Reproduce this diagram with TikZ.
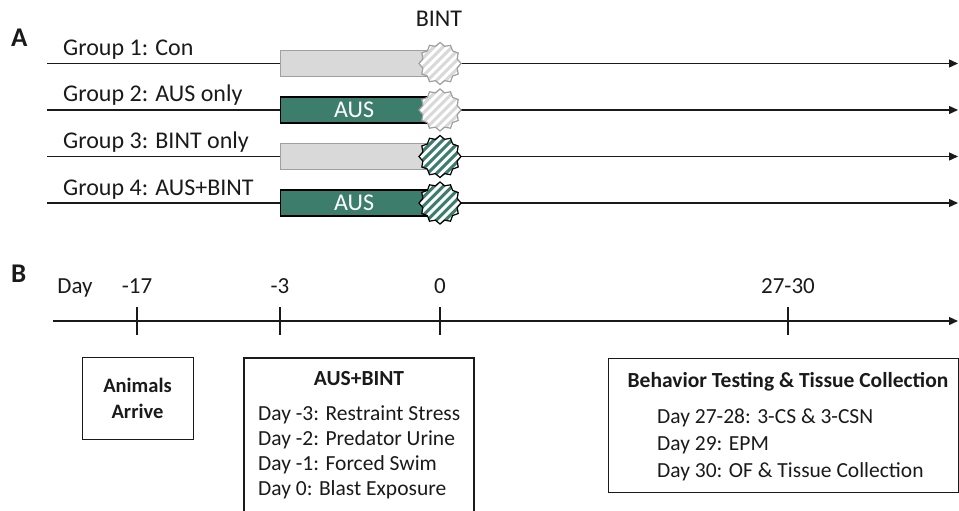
\documentclass[tikz,border=0pt]{standalone}
\usepackage{fontspec}
\setmainfont{Carlito}
\usetikzlibrary{shapes.geometric,arrows.meta,calc}
\definecolor{grn}{HTML}{3C7D6C}
\definecolor{lgray}{HTML}{D9D9D9}
\definecolor{bgray}{HTML}{A0A0A0}
\definecolor{txt}{HTML}{1A1A1A}
\tikzset{
  lbl/.style={font=\fontsize{24}{26}\selectfont, text=txt, inner sep=0pt},
  dlbl/.style={font=\fontsize{23}{25}\selectfont, text=txt, inner sep=0pt, anchor=base},
  panel/.style={font=\bfseries\fontsize{27}{29}\selectfont, text=txt, inner sep=0pt, anchor=base west},
  tline/.style={line width=1.3pt, draw=txt, -{Triangle[length=9pt,width=8pt]}},
  graybar/.style={fill=lgray, draw=bgray, line width=1.2pt, minimum width=147pt, minimum height=26pt, inner sep=0pt, anchor=west},
  greenbar/.style={fill=grn, draw=black, line width=1.2pt, minimum width=147pt, minimum height=26pt, inner sep=0pt, anchor=west, text=white, font=\fontsize{24}{26}\selectfont},
  burst/.style={star, star points=12, star point ratio=1.18, minimum size=42pt, inner sep=0pt, line width=1.2pt,
    path picture={
      \foreach \k in {-7,...,7}
        \draw[white, line width=3pt] ($(path picture bounding box.center)+(\k*9-30,30)$) -- ++(60,-60);
    }},
  lburst/.style={burst, fill=lgray, draw=bgray},
  gburst/.style={burst, fill=grn, draw=black},
  tick/.style={line width=1.2pt, draw=txt},
  infobox/.style={draw=txt, line width=1.2pt, inner sep=0pt},
  bhead/.style={font=\bfseries\fontsize{21.5}{23}\selectfont, text=txt, inner sep=0pt, anchor=base},
  bline/.style={font=\fontsize{21.5}{23}\selectfont, text=txt, inner sep=0pt, anchor=base west},
}
\begin{document}
\begin{tikzpicture}[x=1pt,y=-1pt]
\useasboundingbox (0,0) rectangle (959,511);
% Panel A
\node[panel] (A) at (11,47) {A};
\node[lbl, anchor=base] (bint) at (439,27) {BINT};
\foreach \r/\y/\bar/\bst/\lab/\txt in {1/63.5/graybar/lburst/Group 1: Con/,2/110/greenbar/lburst/Group 2: AUS only/AUS,3/156.5/graybar/gburst/Group 3: BINT only/,4/203/greenbar/gburst/Group 4: AUS+BINT/AUS}{
  \coordinate (s\r) at (47,\y);
  \coordinate (e\r) at (958,\y);
  \draw[tline] (s\r) -- (e\r);
  \node[lbl, anchor=base west] (g\r) at (63,\y-8) {\lab};
  \node[\bar] (bar\r) at (280,\y) {\txt};
  \node[\bst] (st\r) at (440,\y) {};
}
% Panel B
\node[panel] (B) at (11,282) {B};
\node[dlbl] (day) at (75,293) {Day};
\coordinate (bs) at (53,321);
\coordinate (be) at (958,321);
\draw[tline] (bs) -- (be);
\foreach \n/\x/\t in {a/137/-17,b/280/-3,c/440/0,d/788/27-30}{
  \coordinate (t\n1) at (\x,307);
  \coordinate (t\n2) at (\x,335);
  \draw[tick] (t\n1) -- (t\n2);
  \node[dlbl] (d\n) at (\x,293) {\t};
}
% Boxes
\node[infobox, minimum width=111pt, minimum height=82pt, anchor=north west] (box1) at (82,357) {};
\node[font=\bfseries\fontsize{20.5}{22}\selectfont, text=txt, inner sep=0pt, anchor=base] (arr1) at (137.5,392) {Animals};
\node[font=\bfseries\fontsize{20.5}{22}\selectfont, text=txt, inner sep=0pt, anchor=base] (arr2) at (137.5,418) {Arrive};
\draw[line width=1.2pt, draw=txt] (244,512) -- (244,358) -- (474,358) -- (474,512);
\coordinate (box2) at (359,358);
\node[bhead] (h2) at (359,385) {AUS+BINT};
\node[bline] (l21) at (258,420) {Day -3: Restraint Stress};
\node[bline] (l22) at (258,445) {Day -2: Predator Urine};
\node[bline] (l23) at (258,470) {Day -1: Forced Swim};
\node[bline] (l24) at (258,495) {Day 0: Blast Exposure};
\node[infobox, minimum width=350pt, minimum height=134pt, anchor=north west] (box3) at (608,358) {};
\node[bhead] (h3) at (788,387) {Behavior Testing \& Tissue Collection};
\node[bline] (l31) at (657,423) {Day 27-28: 3-CS \& 3-CSN};
\node[bline] (l32) at (657,450) {Day 29: EPM};
\node[bline] (l33) at (657,477) {Day 30: OF \& Tissue Collection};
\end{tikzpicture}
\end{document}
